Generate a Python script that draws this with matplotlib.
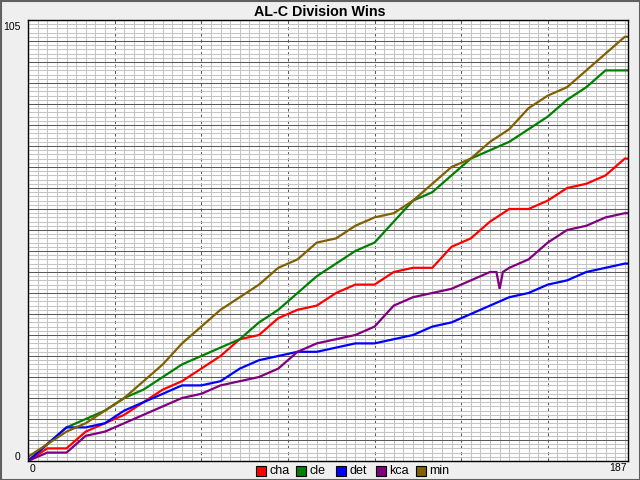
import matplotlib
matplotlib.use("Agg")
import matplotlib.pyplot as plt
from matplotlib.ticker import MultipleLocator
from matplotlib.patches import Rectangle

plt.rcParams['font.family'] = ['Liberation Sans', 'DejaVu Sans']

title = "AL-C Division Wins"
teams = ["cha", "cle", "det", "kca", "min"]
colors = ["#ff0000", "#008000", "#0000ff", "#800080", "#806000"]

games = list(range(0, 187, 6)) + [187]
cha = [0, 3, 3, 7, 9, 11, 14, 17, 19, 22, 25, 29, 30, 34, 36, 37, 40, 42, 42, 45,
       46, 46, 51, 53, 57, 60, 60, 62, 65, 66, 68, 72, 72]
cle = [0, 4, 8, 10, 12, 15, 17, 20, 23, 25, 27, 29, 33, 36, 40, 44, 47, 50, 52, 57,
       62, 64, 68, 72, 74, 76, 79, 82, 86, 89, 93, 93, 93]
det = [0, 4, 8, 8, 9, 12, 14, 16, 18, 18, 19, 22, 24, 25, 26, 26, 27, 28, 28, 29,
       30, 32, 33, 35, 37, 39, 40, 42, 43, 45, 46, 47, 47]
kca = [0, 2, 2, 6, 7, 9, 11, 13, 15, 16, 18, 19, 20, 22, 26, 28, 29, 30, 32, 37,
       39, 40, 41, 43, 45, 46, 48, 52, 55, 56, 58, 59, 59]
mnn = [1, 4, 7, 9, 12, 15, 19, 23, 28, 32, 36, 39, 42, 46, 48, 52, 53, 56, 58, 59,
       62, 66, 70, 72, 76, 79, 84, 87, 89, 93, 97, 101, 101]
# short one-day glitch in the kca line
kca_dip_games = [146, 147, 148]
kca_dip_wins = [45, 41, 45]

x_max = 187
y_max = 105
x_tick_labels = ["0", "187"]
y_tick_labels = ["0", "105"]

W, H = 640, 480
fig = plt.figure(figsize=(6.4, 4.8), dpi=100, facecolor="#efefef")
ax = fig.add_axes([28 / W, 19 / H, 600 / W, 441 / H])
ax.set_facecolor("white")
ax.set_xlim(0, x_max)
ax.set_ylim(0, y_max)

ax.xaxis.set_major_locator(MultipleLocator(27))
ax.xaxis.set_minor_locator(MultipleLocator(3))
ax.yaxis.set_major_locator(MultipleLocator(5))
ax.yaxis.set_minor_locator(MultipleLocator(1))
ax.grid(which="minor", color="#c4c4c4", linewidth=0.75, linestyle="-")
ax.grid(which="major", axis="y", color="#5a5a5a", linewidth=0.75, linestyle="-")
ax.grid(which="major", axis="x", color="#5a5a5a", linewidth=0.75,
        linestyle=(0, (3, 3)))
ax.set_axisbelow(True)
ax.tick_params(which="both", length=0, labelbottom=False, labelleft=False)
for s in ax.spines.values():
    s.set_color("black")
    s.set_linewidth(1.0)

# merge the kca glitch into its series
kx, ky = [], []
for g, v in zip(games, kca):
    kx.append(g)
    ky.append(v)
for g, v in zip(kca_dip_games, kca_dip_wins):
    idx = next(i for i, gg in enumerate(kx) if gg > g)
    kx.insert(idx, g)
    ky.insert(idx, v)

series = {
    "cha": (games, cha),
    "cle": (games, cle),
    "det": (games, det),
    "kca": (kx, ky),
    "min": (games, mnn),
}
for name, col in zip(teams, colors):
    xs, ys = series[name]
    ax.plot(xs, ys, color=col, linewidth=1.6, solid_joinstyle="miter")

# axis end labels
ax.text(-0.012, 0.995, y_tick_labels[1], transform=ax.transAxes, ha="right",
        va="top", fontsize=7.5)
ax.text(-0.012, 0.003, y_tick_labels[0], transform=ax.transAxes, ha="right",
        va="baseline", fontsize=7.5)
ax.text(0.002, -0.006, x_tick_labels[0], transform=ax.transAxes, ha="left",
        va="top", fontsize=7.5)
ax.text(0.998, -0.004, x_tick_labels[1], transform=ax.transAxes, ha="right",
        va="top", fontsize=7.5)

fig.text(0.5, 1 - 12 / H, title, ha="center", va="center", fontsize=10.3,
         fontweight="bold")

# legend row
for i, (name, col) in enumerate(zip(teams, colors)):
    x0 = 256 + 40 * i
    fig.patches.append(Rectangle((x0 / W, 1 - 476 / H), 10 / W, 10 / H,
                                 transform=fig.transFigure, facecolor=col,
                                 edgecolor="black", linewidth=0.8))
    fig.text((x0 + 13) / W, 1 - 471 / H, name, ha="left", va="center",
             fontsize=9)

# outer frame
fig.patches.append(Rectangle((0.5 / W, 0.5 / H), 1 - 1 / W, 1 - 1 / H,
                             transform=fig.transFigure, fill=False,
                             edgecolor="#606060", linewidth=1.5))

fig.savefig("out.png", dpi=100, facecolor=fig.get_facecolor())
